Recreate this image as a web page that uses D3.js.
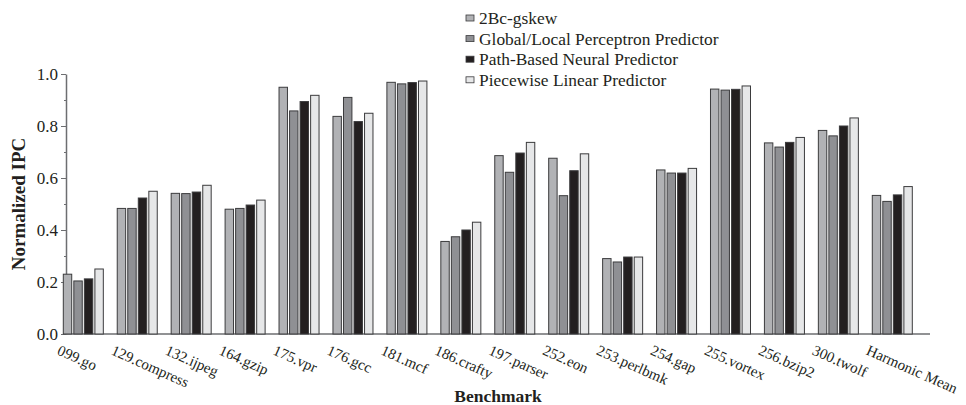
<!DOCTYPE html>
<html>
  <head>
    <meta charset="utf-8" />
    <script src="https://d3js.org/d3.v7.min.js"></script>
    <style>
      body {
        margin: 0;
        background: #fff;
      }
      text {
        font-family: "Liberation Serif", "Times New Roman", serif;
        fill: #231f20;
      }
    </style>
  </head>
  <body>
    <div id="my_chart"></div>
    <script>
      // benchmark names (x categories)
      const benchmarks = [
        "099.go", "129.compress", "132.ijpeg", "164.gzip", "175.vpr",
        "176.gcc", "181.mcf", "186.crafty", "197.parser", "252.eon",
        "253.perlbmk", "254.gap", "255.vortex", "256.bzip2", "300.twolf",
        "Harmonic Mean",
      ];
      const seriesNames = [
        "2Bc-gskew",
        "Global/Local Perceptron Predictor",
        "Path-Based Neural Predictor",
        "Piecewise Linear Predictor",
      ];
      // normalized IPC per benchmark, one array per predictor
      const gskew = [0.23, 0.483, 0.541, 0.48, 0.949, 0.837, 0.968, 0.356, 0.686, 0.676, 0.29, 0.631, 0.942, 0.735, 0.783, 0.533];
      const perceptron = [0.204, 0.483, 0.54, 0.483, 0.858, 0.91, 0.962, 0.374, 0.622, 0.532, 0.277, 0.619, 0.938, 0.719, 0.762, 0.51];
      const pathNeural = [0.212, 0.523, 0.546, 0.496, 0.894, 0.817, 0.967, 0.4, 0.696, 0.628, 0.296, 0.619, 0.941, 0.737, 0.8, 0.535];
      const piecewise = [0.25, 0.549, 0.572, 0.515, 0.918, 0.849, 0.973, 0.43, 0.737, 0.693, 0.296, 0.637, 0.954, 0.756, 0.831, 0.567];
      const yTicks = [0, 0.2, 0.4, 0.6, 0.8, 1.0];
      const yMinorTicks = [0.1, 0.3, 0.5, 0.7, 0.9];

      const allSeries = [gskew, perceptron, pathNeural, piecewise];
      const colors = ["#b1b2b5", "#8f9094", "#231f20", "#e6e7e8"];

      const width = 966,
        height = 405;
      const plotLeft = 66,
        plotRight = 930,
        plotBottom = 334,
        plotTop = 74;

      const svg = d3
        .select("#my_chart")
        .append("svg")
        .attr("width", width)
        .attr("height", height);

      const x = d3
        .scaleBand()
        .domain(benchmarks)
        .range([63.3, 912.3])
        .paddingInner(0.258)
        .paddingOuter(0);

      const xSub = d3
        .scaleBand()
        .domain(seriesNames)
        .range([0, x.bandwidth()])
        .paddingInner(0.2);

      const y = d3.scaleLinear().domain([0, 1]).range([plotBottom, plotTop]);

      // y axis: major ticks with labels
      const yAxis = svg
        .append("g")
        .attr("transform", `translate(${plotLeft},0)`)
        .call(
          d3
            .axisLeft(y)
            .tickValues(yTicks)
            .tickFormat(d3.format(".1f"))
            .tickSize(5)
            .tickSizeOuter(0)
            .tickPadding(3)
        );
      yAxis.select(".domain").attr("stroke", "#6d6e71").attr("stroke-width", 1.5);
      yAxis.selectAll(".tick line").attr("stroke", "#6d6e71");
      yAxis
        .selectAll(".tick text")
        .style("font-family", "Liberation Serif, serif")
        .style("font-size", "17px")
        .attr("fill", "#231f20");

      // minor ticks
      const yMinor = svg
        .append("g")
        .attr("transform", `translate(${plotLeft},0)`)
        .call(d3.axisLeft(y).tickValues(yMinorTicks).tickFormat("").tickSize(2));
      yMinor.select(".domain").remove();
      yMinor.selectAll(".tick line").attr("stroke", "#6d6e71");

      // x axis baseline, labels rotated
      const xAxis = svg
        .append("g")
        .attr("transform", `translate(0,${plotBottom})`)
        .call(d3.axisBottom(x).tickSize(0).tickSizeOuter(0));
      xAxis
        .select(".domain")
        .attr("d", `M${plotLeft},0H${plotRight}`)
        .attr("stroke", "#6d6e71")
        .attr("stroke-width", 1.5);
      xAxis
        .selectAll(".tick text")
        .attr("text-anchor", "start")
        .attr("x", 0)
        .attr("y", 0)
        .attr("dy", 0)
        .attr("transform", (d) => `translate(${-x.bandwidth() / 2 - 7},20) rotate(24)`)
        .style("font-family", "Liberation Serif, serif")
        .style("font-size", "15px")
        .attr("fill", "#231f20");

      // bars
      const groups = svg
        .append("g")
        .selectAll("g")
        .data(benchmarks)
        .join("g")
        .attr("transform", (d) => `translate(${x(d)},0)`);

      groups
        .selectAll("rect")
        .data((d, i) => seriesNames.map((s, k) => ({ key: s, k: k, value: allSeries[k][i] })))
        .join("rect")
        .attr("x", (d) => xSub(d.key))
        .attr("y", (d) => y(d.value))
        .attr("width", xSub.bandwidth())
        .attr("height", (d) => plotBottom - y(d.value))
        .attr("fill", (d) => colors[d.k])
        .attr("stroke", "#3b3b3d")
        .attr("stroke-width", 1);

      // axis titles
      svg
        .append("text")
        .attr("transform", `translate(25,204) rotate(-90)`)
        .attr("text-anchor", "middle")
        .style("font-size", "19px")
        .style("font-weight", "bold")
        .text("Normalized IPC");

      svg
        .append("text")
        .attr("x", 498)
        .attr("y", 402)
        .attr("text-anchor", "middle")
        .style("font-size", "17.5px")
        .style("font-weight", "bold")
        .text("Benchmark");

      // legend
      const legend = svg
        .append("g")
        .selectAll("g")
        .data(seriesNames)
        .join("g")
        .attr("transform", (d, i) => `translate(466,${18 + i * 20.6})`);
      legend
        .append("rect")
        .attr("x", 0)
        .attr("y", -3)
        .attr("width", 8)
        .attr("height", 6)
        .attr("fill", (d, i) => colors[i])
        .attr("stroke", "#3b3b3d")
        .attr("stroke-width", 0.8);
      legend
        .append("text")
        .attr("x", 13)
        .attr("y", 6)
        .style("font-size", "17.4px")
        .text((d) => d);
    </script>
  </body>
</html>
